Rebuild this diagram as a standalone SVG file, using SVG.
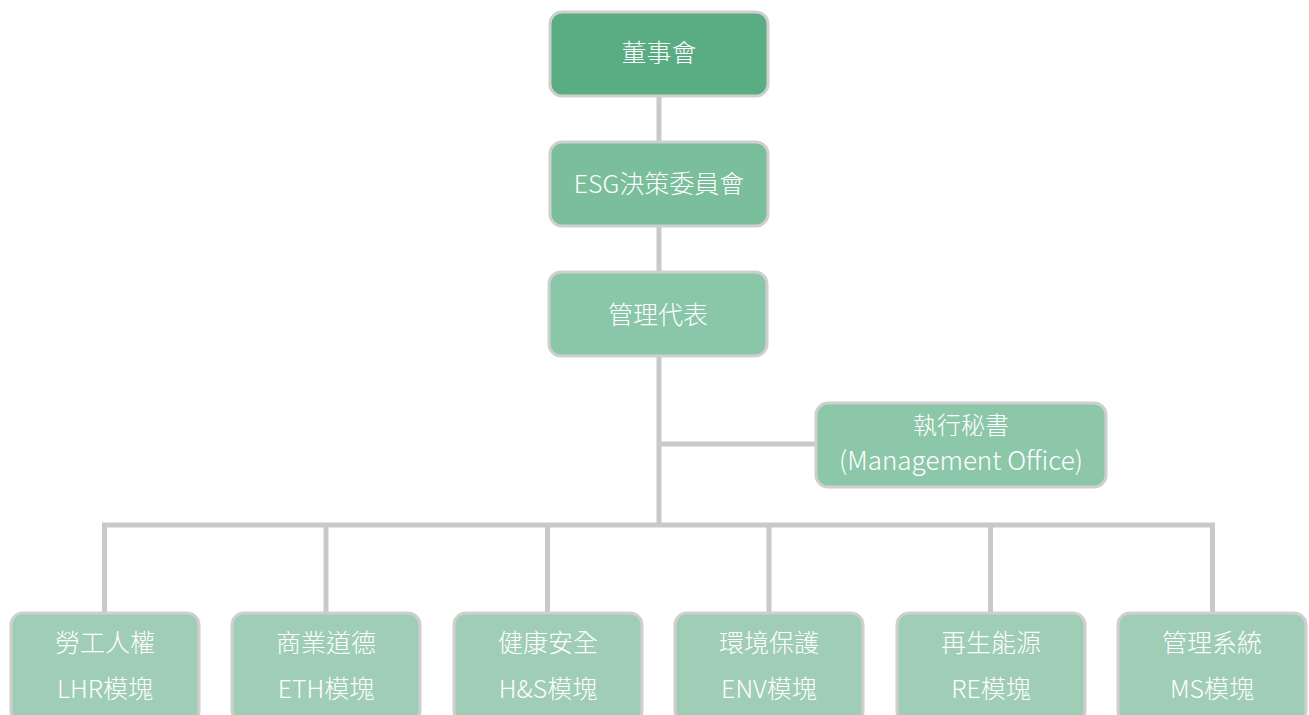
<svg xmlns="http://www.w3.org/2000/svg" width="1309" height="715" viewBox="0 0 1309 715">
<style>
.box{stroke:#cfcfcf;stroke-width:3}
.t{font-family:"Noto Sans CJK TC","Noto Sans",sans-serif;font-size:25px;fill:#ffffff;text-anchor:middle;font-weight:300}
.c{stroke:#c9c9c9;stroke-width:5;fill:none}
</style>
<rect width="1309" height="715" fill="#ffffff"/>
<g id="connectors">
<line class="c" x1="659" y1="96" x2="659" y2="142"/>
<line class="c" x1="659" y1="226" x2="659" y2="272"/>
<line class="c" x1="659" y1="356" x2="659" y2="525"/>
<line class="c" x1="659" y1="444" x2="816" y2="444"/>
<polyline class="c" points="104.5,613 104.5,525 1212.5,525 1212.5,613"/>
<line class="c" x1="326" y1="525" x2="326" y2="613"/>
<line class="c" x1="547.5" y1="525" x2="547.5" y2="613"/>
<line class="c" x1="769" y1="525" x2="769" y2="613"/>
<line class="c" x1="990.5" y1="525" x2="990.5" y2="613"/>
</g>
<g id="n1"><rect class="box" x="550" y="12" width="218" height="84" rx="12" fill="#5aad83"/><text class="t" x="659" y="62">董事會</text></g>
<g id="n2"><rect class="box" x="550" y="142" width="218" height="84" rx="12" fill="#7abe9b"/><text class="t" x="659" y="193">ESG決策委員會</text></g>
<g id="n3"><rect class="box" x="549" y="272" width="218" height="84" rx="12" fill="#8ac6a8"/><text class="t" x="658" y="324">管理代表</text></g>
<g id="n4"><rect class="box" x="816" y="403" width="290" height="84" rx="12" fill="#8cc7a9"/><text class="t" x="961" y="434" style="font-size:24px">執行秘書</text><text class="t" x="961" y="470" style="font-size:26px">(Management Office)</text></g>
<g id="b1"><rect class="box" x="11" y="613" width="188" height="110" rx="12" fill="#9fcdb5"/><text class="t" x="105" y="652">勞工人權</text><text class="t" x="105" y="698">LHR模塊</text></g>
<g id="b2"><rect class="box" x="232" y="613" width="188" height="110" rx="12" fill="#9fcdb5"/><text class="t" x="326" y="652">商業道德</text><text class="t" x="326" y="698">ETH模塊</text></g>
<g id="b3"><rect class="box" x="454" y="613" width="188" height="110" rx="12" fill="#9fcdb5"/><text class="t" x="548" y="652">健康安全</text><text class="t" x="548" y="698">H&amp;S模塊</text></g>
<g id="b4"><rect class="box" x="675" y="613" width="188" height="110" rx="12" fill="#9fcdb5"/><text class="t" x="769" y="652">環境保護</text><text class="t" x="769" y="698">ENV模塊</text></g>
<g id="b5"><rect class="box" x="897" y="613" width="188" height="110" rx="12" fill="#9fcdb5"/><text class="t" x="991" y="652">再生能源</text><text class="t" x="991" y="698">RE模塊</text></g>
<g id="b6"><rect class="box" x="1118" y="613" width="188" height="110" rx="12" fill="#9fcdb5"/><text class="t" x="1212" y="652">管理系統</text><text class="t" x="1212" y="698">MS模塊</text></g>
</svg>
